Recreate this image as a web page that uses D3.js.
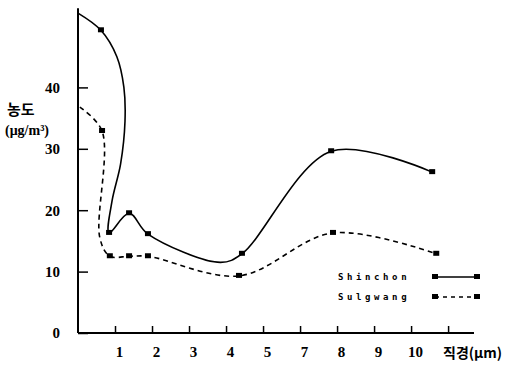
<!DOCTYPE html>
<html><head><meta charset="utf-8">
<script src="https://cdn.jsdelivr.net/npm/d3@7"></script>
<style>
body{margin:0;background:#fff;}
svg{display:block;}
</style></head>
<body>
<svg id="c" width="513" height="369"></svg>
<script>
// x is position along the (non-uniform) diameter axis, in tick units
const xTickPos = [1,2,3,4,5,6,7,8,9,10];
const xTickLabels = ["1","2","3","4","5","7","8","9","10",""];
const yTicks = [0,10,20,30,40];

// Shinchon (solid) — marker flag 1 = plotted point, 0 = curve shape point
const shinX = [0.00, 0.62, 1.05, 1.24, 1.27, 1.15, 0.92, 0.84, 1.38, 1.89, 3.85, 4.43, 6.84, 9.57];
const shinV = [52.1, 49.3, 45.0, 40.0, 34.5, 27.5, 21.5, 16.3, 19.5, 16.1, 11.5, 12.9, 29.6, 26.2];
const shinM = [0, 1, 0, 0, 0, 0, 0, 1, 1, 1, 0, 1, 1, 1];

// Sulgwang (dashed)
const sulX = [0.05, 0.65, 0.59, 0.86, 1.38, 1.89, 4.35, 6.89, 9.68];
const sulV = [36.8, 32.9, 15.5, 12.5, 12.5, 12.5, 9.3, 16.3, 12.9];
const sulM = [0, 1, 0, 1, 1, 1, 1, 1, 1];

const seriesNames = ["Shinchon", "Sulgwang"];

const svg = d3.select("#c");
const x = d3.scaleLinear().domain([0, 10.7]).range([78, 474]);
const y = d3.scaleLinear().domain([0, 40]).range([333, 87.4]);

// axes lines
svg.append("line").attr("x1", x(0)).attr("x2", x(0)).attr("y1", y(0)).attr("y2", y(52.9))
  .attr("stroke", "#000").attr("stroke-width", 2);
svg.append("line").attr("x1", x(0)).attr("x2", x(10.7)).attr("y1", y(0)).attr("y2", y(0))
  .attr("stroke", "#000").attr("stroke-width", 2);

const yAxis = d3.axisLeft(y).tickValues(yTicks).tickSizeInner(-10).tickSizeOuter(0).tickPadding(18);
const gy = svg.append("g").attr("transform", `translate(${x(0)},0)`).call(yAxis);
gy.select(".domain").remove();
gy.selectAll(".tick line").attr("stroke-width", 1.5);
gy.selectAll(".tick text").attr("font-family", "Liberation Serif").attr("font-weight", "bold")
  .attr("font-size", 15).attr("fill", "#000");

const xAxis = d3.axisBottom(x).tickValues(xTickPos).tickFormat((d, i) => xTickLabels[i])
  .tickSizeInner(-7).tickSizeOuter(0).tickPadding(13);
const gx = svg.append("g").attr("transform", `translate(0,${y(0)})`).call(xAxis);
gx.select(".domain").remove();
gx.selectAll(".tick line").attr("stroke-width", 1.5);
gx.selectAll(".tick text").attr("font-family", "Liberation Serif").attr("font-weight", "bold")
  .attr("font-size", 15).attr("fill", "#000").attr("dx", 4);

// axis titles
svg.append("text").attr("x", 7).attr("y", 115).text("농도")
  .attr("font-family", "Noto Sans CJK KR").attr("font-weight", "bold").attr("font-size", 15);
svg.append("text").attr("x", 5).attr("y", 135).text("(μg/m³)")
  .attr("font-family", "Liberation Serif").attr("font-weight", "bold").attr("font-size", 14);
svg.append("text").attr("x", 443).attr("y", 358).text("직경(μm)")
  .attr("font-family", "Noto Sans CJK KR").attr("font-weight", "bold").attr("font-size", 14);

const line = d3.line().x(d => x(d[0])).y(d => y(d[1])).curve(d3.curveCatmullRom.alpha(0.5));

function drawSeries(xs, vs, ms, dash) {
  const pts = xs.map((v, i) => [v, vs[i], ms[i]]);
  svg.append("path").attr("d", line(pts)).attr("fill", "none").attr("stroke", "#000")
    .attr("stroke-width", 1.6).attr("stroke-dasharray", dash);
  svg.selectAll(null).data(pts.filter(p => p[2])).enter().append("rect")
    .attr("x", d => x(d[0]) - 3).attr("y", d => y(d[1]) - 3)
    .attr("width", 6).attr("height", 5).attr("fill", "#000");
}
drawSeries(shinX, shinV, shinM, null);
drawSeries(sulX, sulV, sulM, "5,4");

// legend
const leg = svg.append("g");
[[277, null], [297, "4,4"]].forEach((o, i) => {
  leg.append("text").attr("x", 338).attr("y", o[0] + 3).text(seriesNames[i])
    .attr("font-family", "DejaVu Sans Mono").attr("font-weight", "bold")
    .attr("font-size", 9).attr("letter-spacing", 3.6);
  leg.append("line").attr("x1", 435).attr("x2", 477).attr("y1", o[0]).attr("y2", o[0])
    .attr("stroke", "#000").attr("stroke-width", 1.5).attr("stroke-dasharray", o[1]);
  leg.append("rect").attr("x", 432).attr("y", o[0] - 3).attr("width", 6).attr("height", 5);
  leg.append("rect").attr("x", 474).attr("y", o[0] - 3).attr("width", 6).attr("height", 5);
});
</script>
</body></html>
